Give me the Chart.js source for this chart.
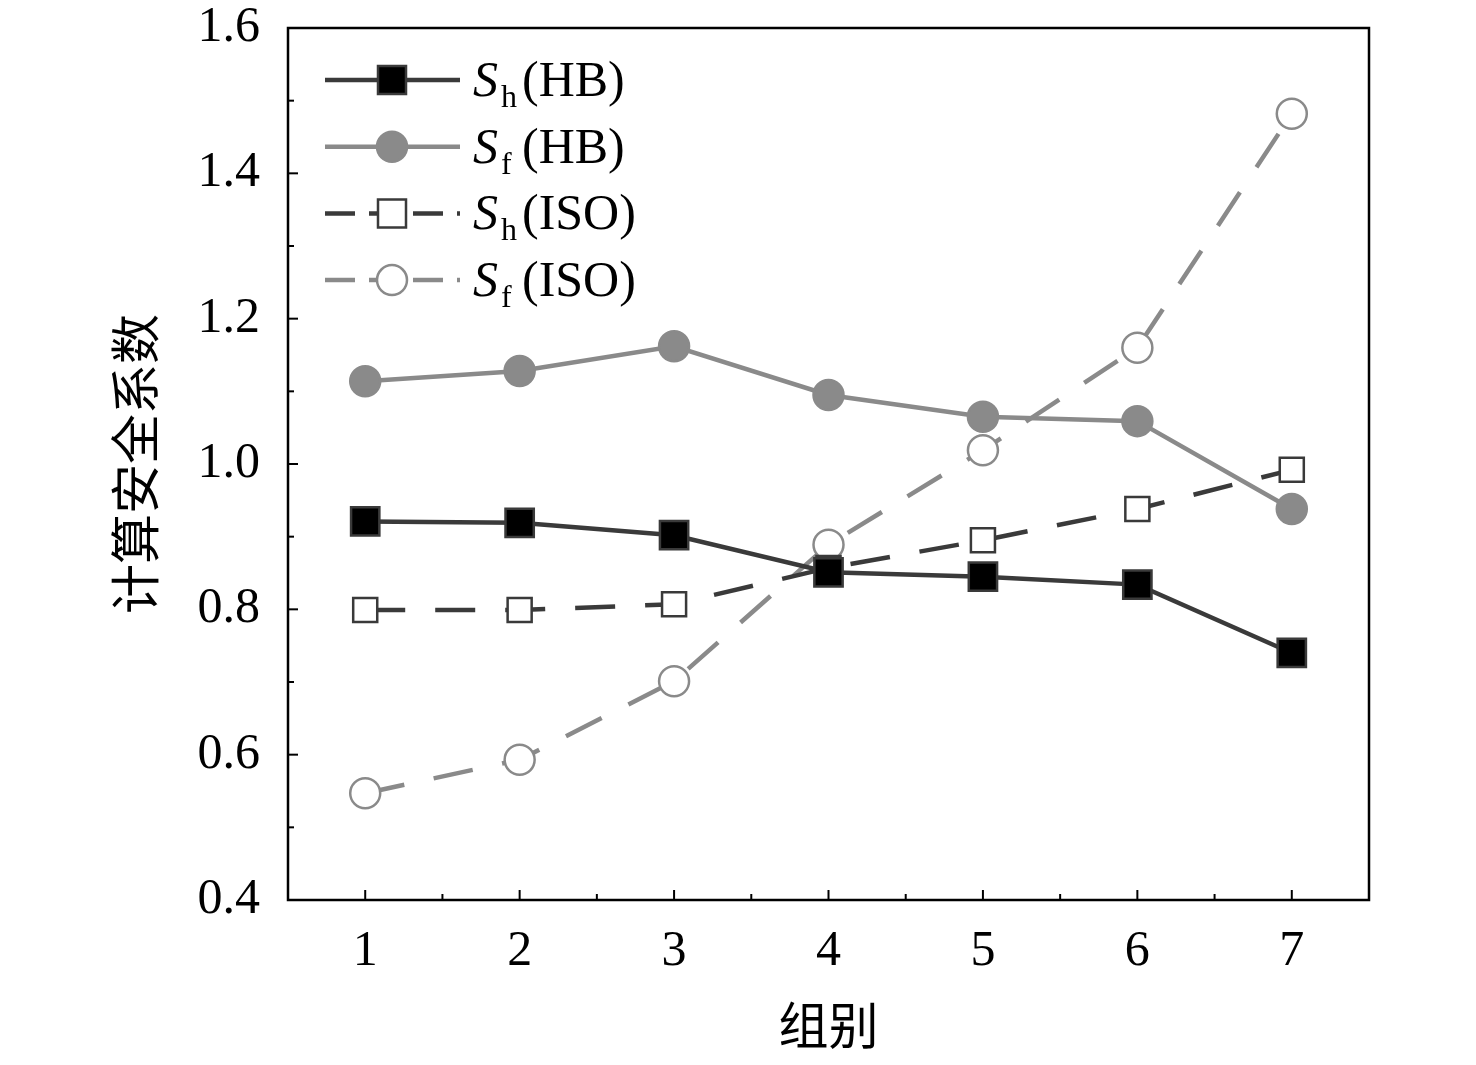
<!DOCTYPE html>
<html><head><meta charset="utf-8">
<script src="https://cdn.jsdelivr.net/npm/chart.js@4"></script>
<style>html,body{margin:0;background:#fff}#wrap{width:1476px;height:1065px}</style>
</head><body><div id="wrap"><canvas id="c"></canvas></div>
<script>
const groups = [1, 2, 3, 4, 5, 6, 7];
const shHB = [0.921, 0.919, 0.902, 0.851, 0.845, 0.834, 0.740];
const sfHB = [1.114, 1.128, 1.162, 1.095, 1.065, 1.059, 0.938];
const shISO = [0.799, 0.799, 0.807, 0.857, 0.895, 0.938, 0.992];
const sfISO = [0.547, 0.593, 0.701, 0.889, 1.019, 1.160, 1.482];
const yTicks = [0.4, 0.6, 0.8, 1.0, 1.2, 1.4, 1.6];

const serif = '"Liberation Serif", "DejaVu Serif", serif';
const pts = arr => groups.map((g, i) => ({ x: g, y: arr[i] }));

const series = [
    { label: 'h', tag: '(HB)', data: shHB, color: '#3a3a3a', fill: '#000', style: 'rect', r: 20, dash: [] },
    { label: 'f', tag: '(HB)', data: sfHB, color: '#8a8a8a', fill: '#8a8a8a', style: 'circle', r: 15, dash: [] },
    { label: 'h', tag: '(ISO)', data: shISO, color: '#3a3a3a', fill: '#fff', style: 'rect', r: 17, dash: [40, 30] },
    { label: 'f', tag: '(ISO)', data: sfISO, color: '#8a8a8a', fill: '#fff', style: 'circle', r: 15, dash: [40, 30] }
];

// inward ticks, titles and legend
const decor = {
    id: 'decor',
    afterDraw(chart) {
        const c = chart.ctx, a = chart.chartArea;
        const xs = chart.scales.x, ys = chart.scales.y;
        c.save();
        c.strokeStyle = '#000';
        c.lineWidth = 2.5;
        c.strokeRect(a.left, a.top, a.right - a.left, a.bottom - a.top);
        c.lineWidth = 2;
        for (let v = 0.4; v <= 1.601; v += 0.1) {
            const y = ys.getPixelForValue(v);
            const major = Math.abs(v * 5 - Math.round(v * 5)) < 1e-6;
            c.beginPath(); c.moveTo(a.left, y); c.lineTo(a.left + (major ? 10 : 6), y); c.stroke();
        }
        for (let v = 1; v <= 7.01; v += 0.5) {
            const x = xs.getPixelForValue(v);
            const major = Number.isInteger(v);
            c.beginPath(); c.moveTo(x, a.bottom); c.lineTo(x, a.bottom - (major ? 10 : 6)); c.stroke();
        }
        // axis titles
        c.fillStyle = '#000';
        c.font = '50px "Noto Sans CJK SC"';
        c.textAlign = 'center'; c.textBaseline = 'middle';
        c.fillText('组别', (a.left + a.right) / 2, 1025);
        c.translate(135, 464); c.rotate(-Math.PI / 2);
        c.fillText('计算安全系数', 0, 0);
        c.setTransform(1, 0, 0, 1, 0, 0);
        c.restore();
        // legend
        c.save();
        series.forEach((s, i) => {
            const y = 80 + i * 66.7;
            c.strokeStyle = s.color; c.lineWidth = 4.5;
            c.setLineDash(s.dash.length ? [30, 14] : []);
            c.beginPath(); c.moveTo(325, y); c.lineTo(460, y); c.stroke();
            c.setLineDash([]);
            c.lineWidth = 2.5; c.fillStyle = s.fill;
            c.beginPath();
            if (s.style === 'rect') { const h = 14; c.rect(392 - h, y - h, 2 * h, 2 * h); }
            else c.arc(392, y, 15, 0, Math.PI * 2);
            c.fill(); c.stroke();
            c.fillStyle = '#000'; c.textAlign = 'left'; c.textBaseline = 'alphabetic';
            c.font = 'italic 50px ' + serif;
            c.fillText('S', 473, y + 16);
            c.font = '32px ' + serif;
            c.fillText(s.label, 501, y + 27);
            c.font = '50px ' + serif;
            c.fillText(s.tag, 522, y + 16);
        });
        c.restore();
    }
};

new Chart(document.getElementById('c'), {
    type: 'line',
    data: {
        datasets: series.map((s, i) => ({
            data: pts(s.data),
            borderColor: s.color,
            borderWidth: 4.5,
            borderDash: s.dash,
            pointStyle: s.style,
            pointRadius: s.r,
            pointBackgroundColor: s.fill,
            pointBorderColor: s.color,
            pointBorderWidth: 2.5,
            order: i + 1,
            tension: 0
        }))
    },
    options: {
        responsive: true,
        maintainAspectRatio: false,
        animation: false,
        layout: { padding: { top: 0, right: 107, left: 0, bottom: 0 } },
        plugins: { legend: { display: false }, tooltip: { enabled: false } },
        scales: {
            x: {
                type: 'linear', min: 0.5, max: 7.5,
                afterBuildTicks: s => { s.ticks = groups.map(v => ({ value: v })); },
                afterFit: s => { s.height = 165; },
                grid: { display: false },
                border: { display: false },
                ticks: { color: '#000', font: { family: serif, size: 50 }, padding: 14 }
            },
            y: {
                min: 0.4, max: 1.6,
                afterBuildTicks: s => { s.ticks = yTicks.map(v => ({ value: v })); },
                afterFit: s => { s.width = 288; s.paddingTop = 28; },
                grid: { display: false },
                border: { display: false },
                ticks: { color: '#000', font: { family: serif, size: 50 }, padding: 20,
                    callback: v => v.toFixed(1) }
            }
        }
    },
    plugins: [decor]
});
</script></body></html>
